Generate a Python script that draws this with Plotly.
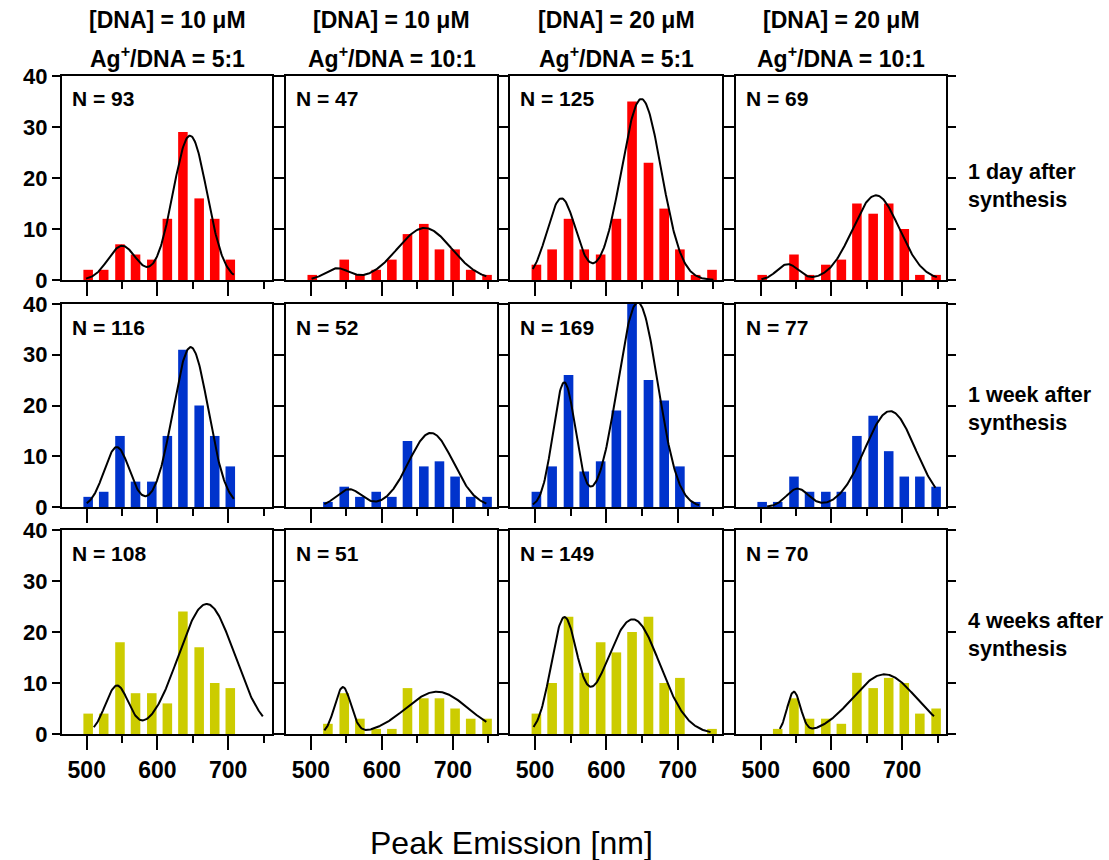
import numpy as np
import plotly.graph_objects as go

# ---------------- data ----------------
wavelength_bins = [502, 524, 547, 569, 592, 614, 636, 659, 681, 703, 725, 748]

col_concentration = ["[DNA] = 10 μM", "[DNA] = 10 μM", "[DNA] = 20 μM", "[DNA] = 20 μM"]
col_ratio = ["Ag<sup>+</sup>/DNA = 5:1", "Ag<sup>+</sup>/DNA = 10:1",
             "Ag<sup>+</sup>/DNA = 5:1", "Ag<sup>+</sup>/DNA = 10:1"]
row_labels = ["1 day after<br>synthesis", "1 week after<br>synthesis", "4 weeks after<br>synthesis"]

counts_1day = [
    [2, 2, 7, 5, 4, 12, 29, 16, 12, 4, 0, 0],
    [1, 0, 4, 1, 2, 4, 9, 11, 6, 6, 2, 1],
    [3, 6, 12, 6, 5, 12, 35, 23, 14, 6, 1, 2],
    [1, 0, 5, 1, 3, 4, 15, 13, 15, 10, 1, 1],
]
counts_1week = [
    [2, 3, 14, 5, 5, 14, 31, 20, 14, 8, 0, 0],
    [0, 1, 4, 2, 3, 2, 13, 8, 9, 6, 2, 2],
    [3, 8, 26, 7, 9, 19, 42, 25, 21, 8, 1, 0],
    [1, 1, 6, 3, 3, 3, 14, 18, 11, 6, 6, 4],
]
counts_4weeks = [
    [4, 4, 18, 8, 8, 6, 24, 17, 10, 9, 0, 0],
    [0, 2, 8, 3, 1, 1, 9, 7, 7, 5, 3, 3],
    [4, 10, 23, 12, 18, 16, 20, 23, 10, 11, 0, 1],
    [0, 1, 7, 3, 3, 2, 12, 9, 11, 10, 4, 5],
]

n_1day = [93, 47, 125, 69]
n_1week = [116, 52, 169, 77]
n_4weeks = [108, 51, 149, 70]

# two-Gaussian fit:
# (height1, center1, width1, height2, center2, width2, curve start, curve end)
fit_1day = [
    (6.7, 550, 20, 28.3, 646, 24, 499, 708),
    (2.25, 537, 17, 10.2, 660, 38, 501, 747),
    (16.0, 537, 20, 35.5, 649, 28, 497, 750),
    (3.1, 538, 15, 16.6, 663, 33, 501, 749),
]
fit_1week = [
    (11.8, 542.5, 18, 31.5, 647, 25, 500, 708),
    (3.5, 553.7, 18, 14.6, 669, 31.4, 519, 747),
    (24.5, 541, 15.7, 40.3, 644, 28, 497, 730),
    (3.6, 552, 15.8, 18.9, 683, 35.7, 509, 747),
]
fit_4weeks = [
    (9.35, 542.5, 16.4, 25.5, 669.6, 39.7, 510, 749),
    (9.1, 545, 11.5, 8.3, 677.5, 44, 519, 747),
    (22.0, 540.5, 18, 22.5, 637, 38, 498, 746),
    (8.1, 546.7, 9.5, 11.7, 675, 45, 527, 745),
]

# ---------------- layout constants ----------------
W, H = 1109, 860
row_colors = ["#FF0000", "#0033CC", "#CCCC00"]
col_px = [(62, 272), (286, 497), (510, 722), (736, 946)]
row_px = [(76, 280), (304, 507), (530, 734)]
FONT = "Arial, 'Liberation Sans', sans-serif"

counts_all = [counts_1day, counts_1week, counts_4weeks]
n_all = [n_1day, n_1week, n_4weeks]
fit_all = [fit_1day, fit_1week, fit_4weeks]

fig = go.Figure()
layout = dict(
    width=W, height=H, autosize=False,
    margin=dict(l=0, r=0, t=0, b=0, pad=0, autoexpand=False),
    paper_bgcolor="white", plot_bgcolor="white", showlegend=False,
    font=dict(family=FONT, color="black"),
)
annotations = []

for r in range(3):
    for c in range(4):
        i = r * 4 + c + 1
        xa = "x" if i == 1 else f"x{i}"
        ya = "y" if i == 1 else f"y{i}"
        xkey = "xaxis" if i == 1 else f"xaxis{i}"
        ykey = "yaxis" if i == 1 else f"yaxis{i}"

        fig.add_trace(go.Bar(
            x=wavelength_bins, y=counts_all[r][c], width=13.5,
            marker=dict(color=row_colors[r], line=dict(width=0)),
            xaxis=xa, yaxis=ya, hoverinfo="x+y",
        ))
        a1, m1, s1, a2, m2, s2, x0, x1 = fit_all[r][c]
        xs = np.linspace(x0, x1, 240)
        ys = a1 * np.exp(-0.5 * ((xs - m1) / s1) ** 2) + a2 * np.exp(-0.5 * ((xs - m2) / s2) ** 2)
        fig.add_trace(go.Scatter(
            x=xs, y=ys, mode="lines", line=dict(color="black", width=2),
            xaxis=xa, yaxis=ya, hoverinfo="skip",
        ))

        L, R = col_px[c]
        T, B = row_px[r]
        layout[xkey] = dict(
            domain=[L / W, R / W], anchor=ya, range=[465, 762], automargin=False,
            tick0=500, dtick=100, ticks="outside", ticklen=14, tickwidth=2, tickcolor="black",
            showline=True, linewidth=2, linecolor="black", mirror=True,
            showgrid=False, zeroline=False, showticklabels=(r == 2),
            tickfont=dict(size=23, family=FONT, color="black", weight="bold"),
            minor=dict(tick0=500, dtick=50, ticks="outside", ticklen=7, tickwidth=2,
                       tickcolor="black", showgrid=False),
        )
        layout[ykey] = dict(
            domain=[1 - B / H, 1 - T / H], anchor=xa, range=[0, 40], automargin=False,
            tick0=0, dtick=10, ticks="outside", ticklen=8, tickwidth=2, tickcolor="black",
            showline=True, linewidth=2, linecolor="black", mirror="ticks",
            showgrid=False, zeroline=False, showticklabels=(c == 0),
            tickfont=dict(size=22, family=FONT, color="black", weight="bold"),
        )
        annotations.append(dict(
            text=f"N = {n_all[r][c]}", xref="paper", yref="paper",
            x=(L + 8) / W, y=1 - (T + 23) / H, xanchor="left", yanchor="middle",
            showarrow=False, font=dict(size=21, family=FONT, color="black", weight="bold"),
        ))

for c in range(4):
    L, R = col_px[c]
    cx = (L + R) / 2 / W
    annotations.append(dict(
        text=col_concentration[c], xref="paper", yref="paper", x=cx, y=1 - 20 / H,
        xanchor="center", yanchor="middle", showarrow=False,
        font=dict(size=23, family=FONT, color="black", weight="bold"),
    ))
    annotations.append(dict(
        text=col_ratio[c], xref="paper", yref="paper", x=cx, y=1 - 57 / H,
        xanchor="center", yanchor="middle", showarrow=False,
        font=dict(size=23, family=FONT, color="black", weight="bold"),
    ))

row_label_y = [186, 409, 635]
for r in range(3):
    annotations.append(dict(
        text=row_labels[r], xref="paper", yref="paper", x=966 / W, y=1 - row_label_y[r] / H,
        xanchor="left", yanchor="middle", align="left", showarrow=False,
        font=dict(size=21.5, family=FONT, color="black", weight="bold"),
    ))

annotations.append(dict(
    text="Peak Emission [nm]", xref="paper", yref="paper", x=511 / W, y=1 - 843 / H,
    xanchor="center", yanchor="middle", showarrow=False,
    font=dict(size=32, family=FONT, color="black"),
))

layout["annotations"] = annotations
fig.update_layout(**layout)
fig.write_html("out.html")
